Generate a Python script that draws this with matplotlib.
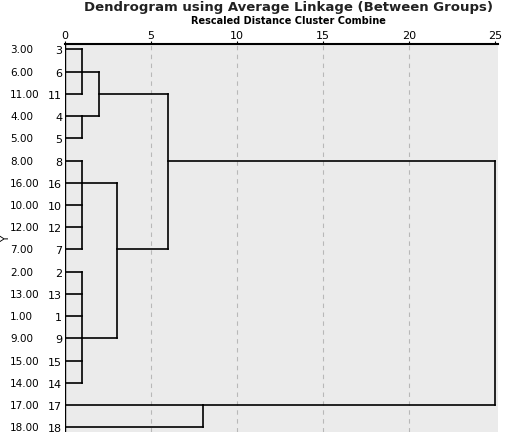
import matplotlib
matplotlib.use("Agg")
import matplotlib.pyplot as plt
from matplotlib.transforms import blended_transform_factory

leaf_labels = ["3", "6", "11", "4", "5", "8", "16", "10", "12", "7", "2", "13", "1", "9", "15", "14", "17", "18"]
case_labels = ["3.00", "6.00", "11.00", "4.00", "5.00", "8.00", "16.00", "10.00", "12.00", "7.00",
               "2.00", "13.00", "1.00", "9.00", "15.00", "14.00", "17.00", "18.00"]
# merges: (child rows, rescaled distance, output row)
merges = [
    ([0, 1, 2], 1, 1),
    ([3, 4], 1, 3),
    ([1, 3], 2, 2),
    ([5, 6, 7, 8, 9], 1, 6),
    ([10, 11, 12, 13, 14, 15], 1, 13),
    ([6, 13], 3, 9),
    ([2, 9], 6, 5),
    ([16, 17], 8, 16),
    ([5, 16], 25, 5),
]
xticks = [0, 5, 10, 15, 20, 25]

fig = plt.figure(figsize=(5.2, 4.35), dpi=100)
ax = fig.add_axes([0.125, 0.005, 0.833, 0.892])
ax.set_facecolor("#ebebeb")
for x in xticks[1:-1]:
    ax.axvline(x, color="#b8b8b8", lw=0.8, ls=(0, (4, 4)), zorder=1)

cur_x = [0.0] * len(leaf_labels)
for rows, d, out in merges:
    for r in rows:
        ax.plot([cur_x[r], d], [r, r], color="black", lw=1.2, zorder=3)
    ax.plot([d, d], [min(rows), max(rows)], color="black", lw=1.2, zorder=3)
    cur_x[out] = d

ax.set_xlim(0, 25.2)
ax.set_ylim(17.2, -0.25)
ax.xaxis.tick_top()
ax.set_xticks(xticks)
ax.tick_params(axis="x", length=2, labelsize=8, pad=1)
ax.set_yticks(range(len(leaf_labels)))
ax.set_yticklabels(leaf_labels, fontsize=8)
ax.tick_params(axis="y", length=0, pad=2)
for s in ["left", "right", "bottom"]:
    ax.spines[s].set_visible(False)
ax.spines["top"].set_linewidth(1.5)
ax.axvline(0, color="black", lw=1.0, zorder=2)

tr = blended_transform_factory(fig.transFigure, ax.transData)
for i, c in enumerate(case_labels):
    ax.text(10 / 520, i, c, transform=tr, fontsize=7.5, va="center", ha="left")
fig.text(6 / 520, 0.45, "Y", rotation=90, fontsize=7.5, va="center", ha="center")
fig.text(0.555, 0.998, "Dendrogram using Average Linkage (Between Groups)", fontsize=9.5,
         fontweight="semibold", ha="center", va="top", color="#222222")
fig.text(0.555, 0.963, "Rescaled Distance Cluster Combine", fontsize=7, fontweight="bold",
         ha="center", va="top")
fig.savefig("out.png", dpi=100)
